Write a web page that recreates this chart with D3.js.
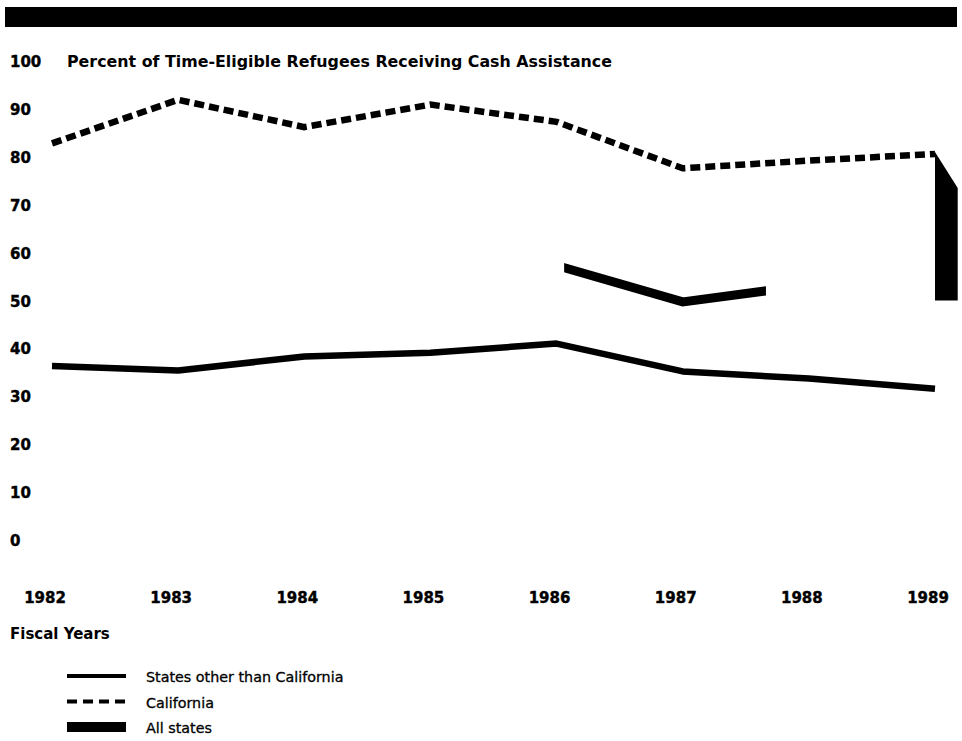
<html>
<head>
<script src="https://d3js.org/d3.v7.min.js"></script>
<style>
  body { margin: 0; background: #fff; }
  text { font-family: "DejaVu Sans", sans-serif; fill: #000; }
</style>
</head>
<body>
<script>
// data
const years = [1982, 1983, 1984, 1985, 1986, 1987, 1988, 1989];
const otherStates = [36.3, 35.4, 38.3, 39.1, 41.0, 35.2, 33.7, 31.6];
const california = [82.8, 91.9, 86.2, 90.9, 87.3, 77.6, 79.2, 80.6];
// only a fragment of the "All states" line survives in the copy
const allStates = [null, null, null, null, 57.3, 49.7, 53.2, null];
const allStatesVisible = [1986.06, 1987.66];
// dark block at the right edge of the scan
const edgeBlockYears = [1989.0, 1989.18];
const edgeBlockTop = [81.0, 73.5];
const edgeBlockBottom = 50;
const yTicks = [0, 10, 20, 30, 40, 50, 60, 70, 80, 90, 100];
const legendItems = ["States other than California", "California", "All states"];

const w = 962, h = 741;
const x = d3.scaleLinear().domain([1982, 1989]).range([52, 935]);
const y = d3.scaleLinear().domain([0, 100]).range([540, 61]);

const svg = d3.select('body').append('svg')
    .attr('width', w).attr('height', h);

svg.append('rect').attr('width', w).attr('height', h).attr('fill', '#fff');
svg.append('rect').attr('x', 5).attr('y', 7).attr('width', 952).attr('height', 20).attr('fill', '#000');

// y tick labels
svg.append('g').selectAll('text')
    .data(yTicks)
    .enter().append('text')
    .attr('x', 10)
    .attr('y', d => y(d) + 6)
    .attr('font-size', 15)
    .attr('font-weight', 'bold')
    .attr('stroke', '#000').attr('stroke-width', 0.4)
    .text(d => d);

svg.append('text')
    .attr('x', 67).attr('y', y(100) + 6)
    .attr('font-size', 15).attr('font-weight', 'bold')
    .attr('textLength', 545).attr('lengthAdjust', 'spacingAndGlyphs')
    .text('Percent of Time-Eligible Refugees Receiving Cash Assistance');

// x labels
svg.append('g').selectAll('text')
    .data(years)
    .enter().append('text')
    .attr('x', d => x(d) - 7)
    .attr('y', 603)
    .attr('text-anchor', 'middle')
    .attr('font-size', 15).attr('font-weight', 'bold')
    .attr('stroke', '#000').attr('stroke-width', 0.4)
    .text(d => d);

svg.append('text').attr('x', 10).attr('y', 639)
    .attr('font-size', 15).attr('font-weight', 'bold')
    .text('Fiscal Years');

const line = d3.line()
    .defined(d => d[1] != null)
    .x(d => x(d[0]))
    .y(d => y(d[1]));

svg.append('path')
    .datum(years.map((yr, i) => [yr, otherStates[i]]))
    .attr('d', line)
    .attr('fill', 'none').attr('stroke', '#000')
    .attr('stroke-width', 6.5).attr('stroke-linejoin', 'round');

svg.append('path')
    .datum(years.map((yr, i) => [yr, california[i]]))
    .attr('d', line)
    .attr('fill', 'none').attr('stroke', '#000')
    .attr('stroke-width', 6.5).attr('stroke-dasharray', '10,5');

svg.append('clipPath').attr('id', 'allclip')
    .append('rect')
    .attr('x', x(allStatesVisible[0]))
    .attr('width', x(allStatesVisible[1]) - x(allStatesVisible[0]))
    .attr('y', 0).attr('height', h);

svg.append('path')
    .datum(years.map((yr, i) => [yr, allStates[i]]))
    .attr('d', line)
    .attr('clip-path', 'url(#allclip)')
    .attr('fill', 'none').attr('stroke', '#000')
    .attr('stroke-width', 9);

svg.append('path')
    .datum([[edgeBlockYears[0], edgeBlockTop[0]], [edgeBlockYears[1], edgeBlockTop[1]],
            [edgeBlockYears[1], edgeBlockBottom], [edgeBlockYears[0], edgeBlockBottom]])
    .attr('d', d => 'M' + d.map(p => x(p[0]) + ',' + y(p[1])).join('L') + 'Z')
    .attr('fill', '#000');

// legend
const leg = svg.append('g').selectAll('g')
    .data(legendItems)
    .enter().append('g')
    .attr('transform', (d, i) => 'translate(67,' + (676 + i * 25.5) + ')');

leg.each(function(d, i) {
    const g = d3.select(this);
    if (i === 0) {
        g.append('line').attr('x1', 0).attr('x2', 59).attr('stroke', '#000').attr('stroke-width', 4);
    } else if (i === 1) {
        g.append('line').attr('x1', 0).attr('x2', 59).attr('stroke', '#000').attr('stroke-width', 4)
            .attr('stroke-dasharray', '10,6');
    } else {
        g.append('rect').attr('x', 0).attr('y', -5).attr('width', 59).attr('height', 10).attr('fill', '#000');
    }
    g.append('text').attr('x', 79).attr('y', 6)
        .attr('font-size', 14.3)
        .attr('stroke', '#000').attr('stroke-width', 0.3)
        .text(d);
});
</script>
</body>
</html>
